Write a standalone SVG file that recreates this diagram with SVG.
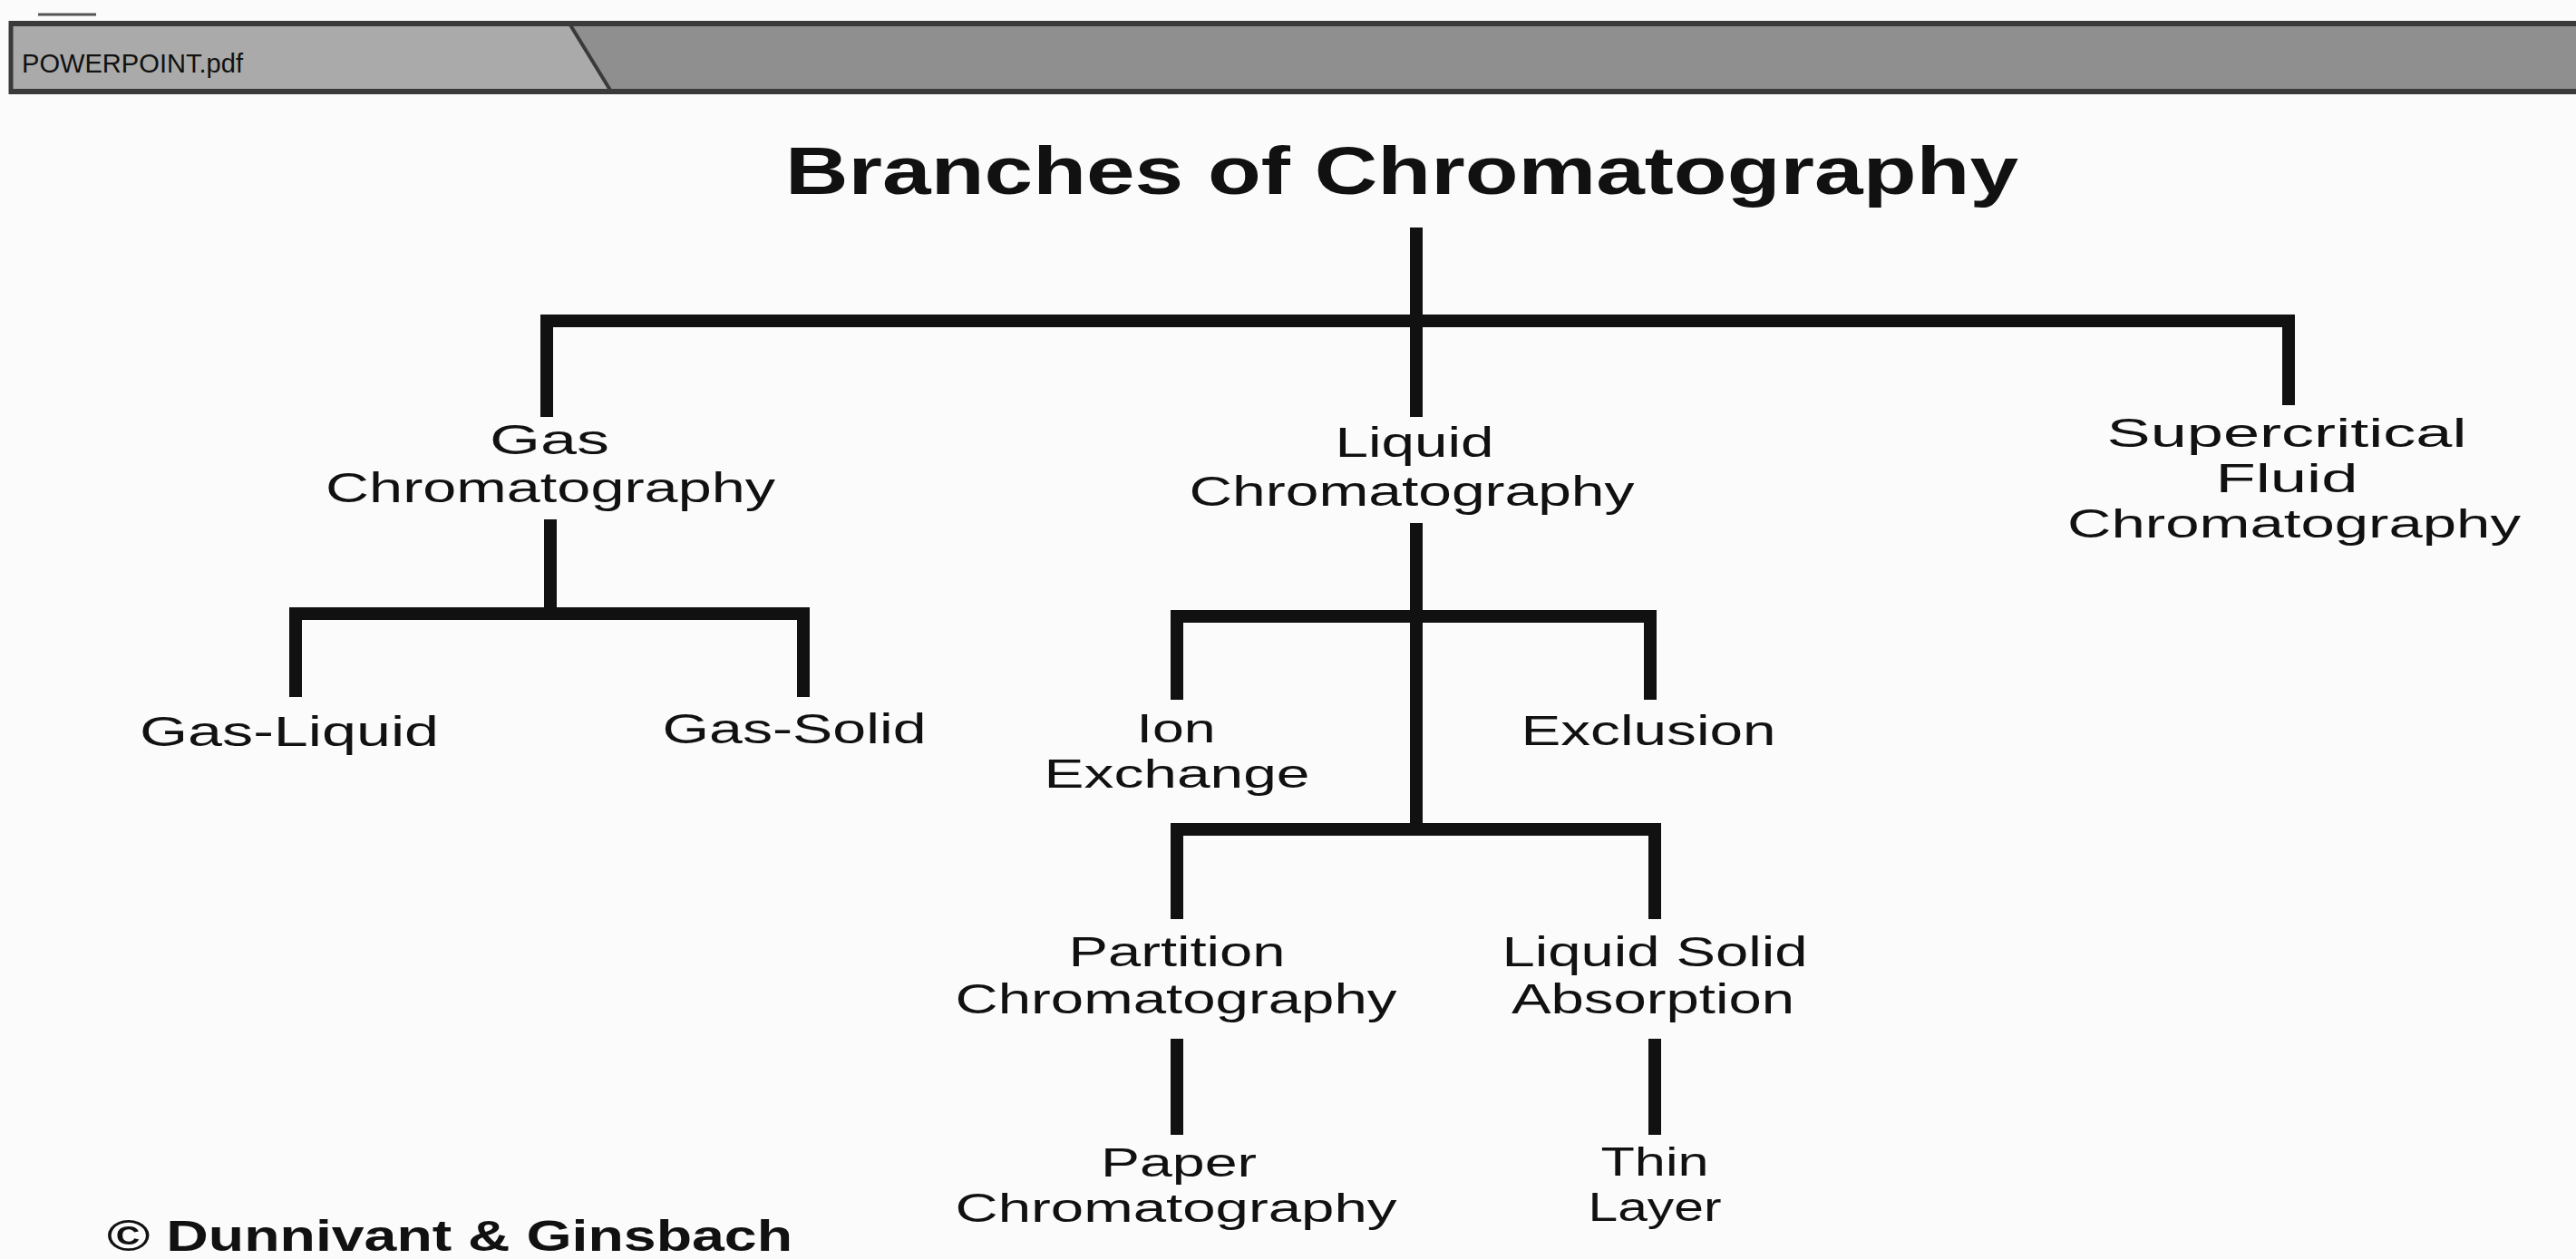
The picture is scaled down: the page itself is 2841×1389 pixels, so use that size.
<svg xmlns="http://www.w3.org/2000/svg" width="2841" height="1389" viewBox="0 0 2841 1389">
<style>
.t{font-family:"Liberation Sans",Arial,Helvetica,sans-serif;font-size:46px;fill:#111;text-anchor:middle}
.s{font-size:44px}
.b{font-weight:bold}
.ln{fill:none;stroke:#111;stroke-width:14;stroke-linecap:square;stroke-linejoin:miter}
</style>
<rect width="2841" height="1389" fill="#fbfbfb"/>
<g id="header">
<rect x="10" y="23" width="2831" height="81" fill="#8f8f8f"/>
<polygon points="10,23 628,23 674,104 10,104" fill="#aaaaaa"/>
<line x1="10" y1="26" x2="2841" y2="26" stroke="#3a3a3a" stroke-width="6"/>
<line x1="10" y1="101" x2="2841" y2="101" stroke="#3a3a3a" stroke-width="6"/>
<line x1="12" y1="23" x2="12" y2="104" stroke="#3a3a3a" stroke-width="5"/>
<line x1="628" y1="26" x2="674" y2="101" stroke="#3a3a3a" stroke-width="4"/>
<line x1="42" y1="16" x2="106" y2="16" stroke="#555" stroke-width="3"/>
<text x="24" y="80" style="font-family:'Liberation Sans',Arial,sans-serif;font-size:30px;fill:#111" textLength="244" lengthAdjust="spacingAndGlyphs">POWERPOINT.pdf</text>
</g>
<g id="title"><text class="t b" x="1546" y="214" style="font-size:74px" textLength="1360" lengthAdjust="spacingAndGlyphs">Branches of Chromatography</text></g>
<g id="connectors">
<path class="ln" d="M1562,258 V453"/>
<path class="ln" d="M603,453 V354 H2524 V440"/>
<path class="ln" d="M607,580 V677"/>
<path class="ln" d="M326,762 V677 H886 V762"/>
<path class="ln" d="M1562,584 V915"/>
<path class="ln" d="M1298,765 V680 H1820 V765"/>
<path class="ln" d="M1298,1007 V915 H1825 V1007"/>
<path class="ln" d="M1298,1153 V1245"/>
<path class="ln" d="M1825,1153 V1245"/>
</g>
<g id="gas"><text class="t" x="606" y="501" textLength="132" lengthAdjust="spacingAndGlyphs">Gas</text><text class="t" x="607" y="554" textLength="496" lengthAdjust="spacingAndGlyphs">Chromatography</text></g>
<g id="liquid"><text class="t" x="1560" y="504" textLength="175" lengthAdjust="spacingAndGlyphs">Liquid</text><text class="t" x="1557" y="558" textLength="491" lengthAdjust="spacingAndGlyphs">Chromatography</text></g>
<g id="supercritical"><text class="t s" x="2522" y="493" textLength="397" lengthAdjust="spacingAndGlyphs">Supercritical</text><text class="t s" x="2522" y="543" textLength="157" lengthAdjust="spacingAndGlyphs">Fluid</text><text class="t s" x="2530" y="593" textLength="500" lengthAdjust="spacingAndGlyphs">Chromatography</text></g>
<g id="gas-liquid"><text class="t" x="319" y="823" textLength="330" lengthAdjust="spacingAndGlyphs">Gas-Liquid</text></g>
<g id="gas-solid"><text class="t" x="876" y="820" textLength="291" lengthAdjust="spacingAndGlyphs">Gas-Solid</text></g>
<g id="ion-exchange"><text class="t s" x="1297" y="819" textLength="87" lengthAdjust="spacingAndGlyphs">Ion</text><text class="t s" x="1298" y="869" textLength="293" lengthAdjust="spacingAndGlyphs">Exchange</text></g>
<g id="exclusion"><text class="t" x="1818" y="822" textLength="281" lengthAdjust="spacingAndGlyphs">Exclusion</text></g>
<g id="partition"><text class="t" x="1298" y="1066" textLength="239" lengthAdjust="spacingAndGlyphs">Partition</text><text class="t" x="1297" y="1118" textLength="487" lengthAdjust="spacingAndGlyphs">Chromatography</text></g>
<g id="liquid-solid"><text class="t" x="1825" y="1066" textLength="337" lengthAdjust="spacingAndGlyphs">Liquid Solid</text><text class="t" x="1823" y="1118" textLength="312" lengthAdjust="spacingAndGlyphs">Absorption</text></g>
<g id="paper"><text class="t s" x="1300" y="1298" textLength="172" lengthAdjust="spacingAndGlyphs">Paper</text><text class="t s" x="1297" y="1348" textLength="487" lengthAdjust="spacingAndGlyphs">Chromatography</text></g>
<g id="thin-layer"><text class="t s" x="1825" y="1297" textLength="119" lengthAdjust="spacingAndGlyphs">Thin</text><text class="t s" x="1825" y="1347" textLength="147" lengthAdjust="spacingAndGlyphs">Layer</text></g>
<g id="credit"><text class="t b" x="118" y="1380" style="text-anchor:start;font-size:48px" textLength="756" lengthAdjust="spacingAndGlyphs">© Dunnivant &amp; Ginsbach</text></g>
</svg>
